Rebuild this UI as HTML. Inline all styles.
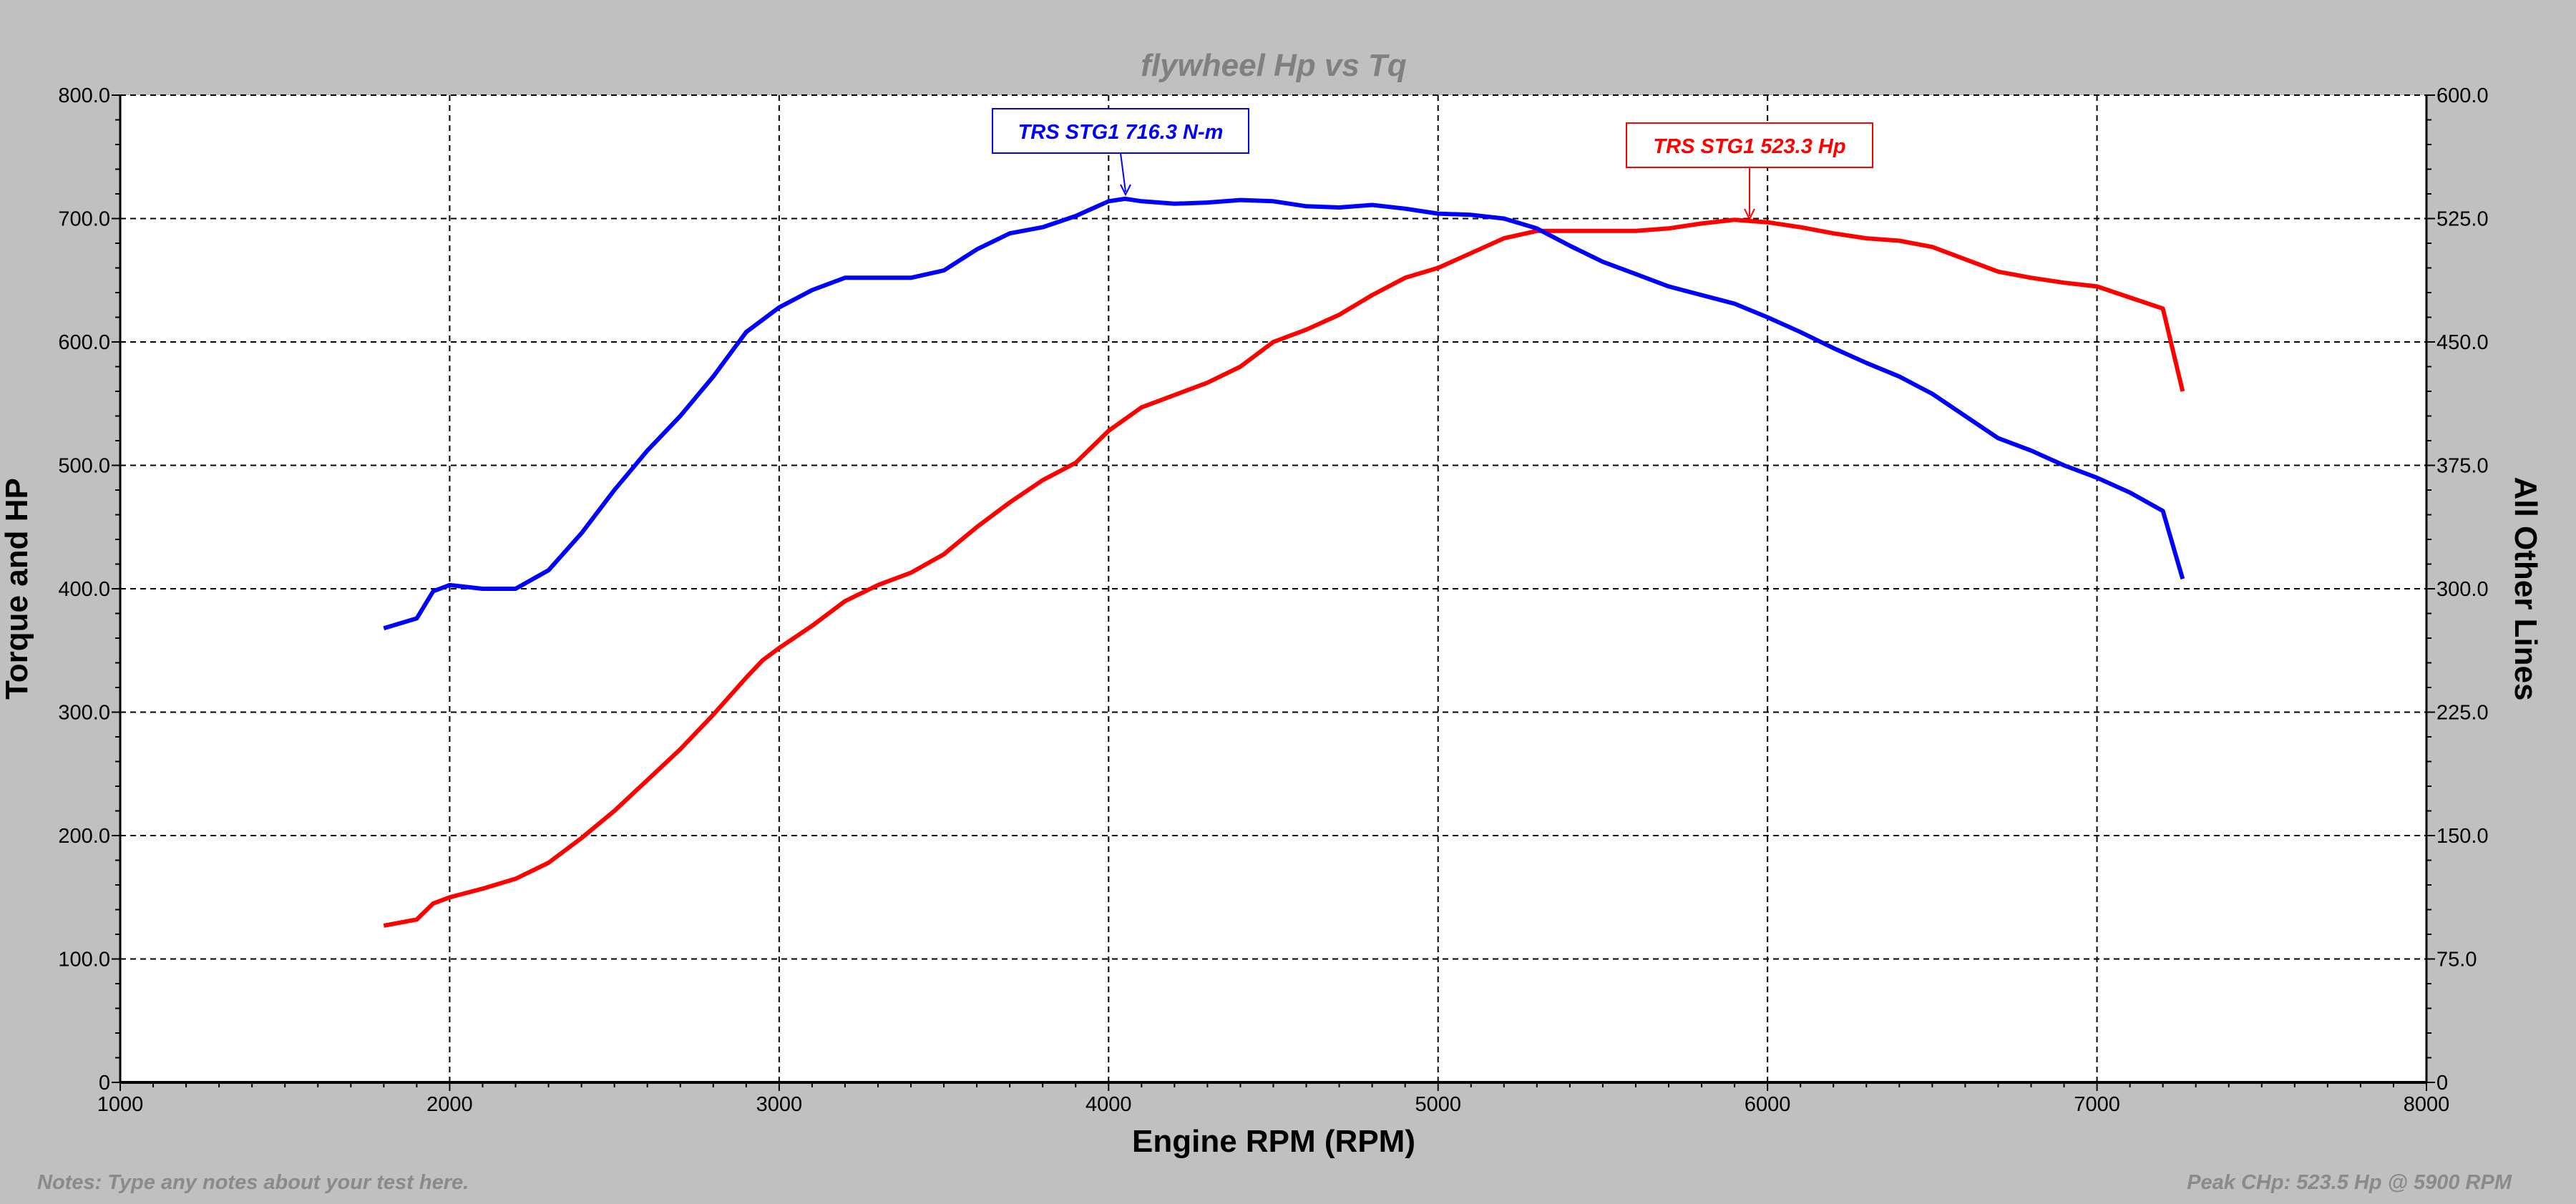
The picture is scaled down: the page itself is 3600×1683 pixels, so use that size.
<!DOCTYPE html>
<html><head><meta charset="utf-8"><style>
html,body{margin:0;padding:0;background:#c0c0c0;}
svg{display:block;font-family:"Liberation Sans",Arial,sans-serif;}
</style></head><body>
<svg id="s" width="3600" height="1683" xmlns="http://www.w3.org/2000/svg">
<rect width="3600" height="1683" fill="#c0c0c0"/>
<rect x="168" y="133" width="3223" height="1380" fill="#fff"/>
<g id="grid"></g>
<g id="ticks"></g>
<text x="1780" y="106" font-size="44" font-weight="bold" font-style="italic" fill="#808080" text-anchor="middle">flywheel Hp vs Tq</text>
<text x="1780" y="1610" font-size="44" font-weight="bold" fill="#000" text-anchor="middle">Engine RPM (RPM)</text>
<text transform="translate(38,823) rotate(-90)" font-size="44" font-weight="bold" fill="#000" text-anchor="middle">Torque and HP</text>
<text transform="translate(3515,823) rotate(90)" font-size="44" font-weight="bold" fill="#000" text-anchor="middle">All Other Lines</text>
<text x="52" y="1662" font-size="29" font-weight="bold" font-style="italic" fill="#8a8a8a">Notes: Type any notes about your test here.</text>
<text x="3510" y="1662" font-size="29" font-weight="bold" font-style="italic" fill="#8a8a8a" text-anchor="end">Peak CHp: 523.5 Hp @ 5900 RPM</text>
<g id="curves"></g>
<g>
<rect x="1387" y="152" width="358" height="62" fill="#fff" stroke="#0000ff" stroke-width="2"/>
<text x="1566" y="194" font-size="29" font-weight="bold" font-style="italic" fill="#0000ff" text-anchor="middle">TRS STG1 716.3 N-m</text>
<line x1="1566" y1="214" x2="1573" y2="268" stroke="#0000ff" stroke-width="2"/>
<path d="M1566,258 L1573,272 L1580,258" fill="none" stroke="#0000ff" stroke-width="2"/>
<rect x="2273" y="172" width="344" height="62" fill="#fff" stroke="#ff0000" stroke-width="2"/>
<text x="2445" y="214" font-size="29" font-weight="bold" font-style="italic" fill="#ff0000" text-anchor="middle">TRS STG1 523.3 Hp</text>
<line x1="2445" y1="234" x2="2445" y2="302" stroke="#ff0000" stroke-width="2"/>
<path d="M2438,292 L2445,306 L2452,292" fill="none" stroke="#ff0000" stroke-width="2"/>
</g>
</svg>
<script>
var L=168,R=3391,T=133,B=1513;
function X(r){return L+(r-1000)*(R-L)/7000;}
function Y(v){return B-v*(B-T)/800;}
var ns="http://www.w3.org/2000/svg",g=document.getElementById('grid'),tk=document.getElementById('ticks'),cv=document.getElementById('curves');
var h='';
for(var r=2000;r<=7000;r+=1000)h+='<line x1="'+X(r)+'" y1="'+T+'" x2="'+X(r)+'" y2="'+B+'" stroke="#000" stroke-width="2" stroke-dasharray="8,6"/>';
for(var v=100;v<=800;v+=100)h+='<line x1="'+L+'" y1="'+Y(v)+'" x2="'+R+'" y2="'+Y(v)+'" stroke="#000" stroke-width="2" stroke-dasharray="8,6"/>';
g.innerHTML=h;
h='<line x1="'+L+'" y1="'+T+'" x2="'+L+'" y2="'+B+'" stroke="#000" stroke-width="3"/>';
h+='<line x1="'+R+'" y1="'+T+'" x2="'+R+'" y2="'+B+'" stroke="#000" stroke-width="3"/>';
h+='<line x1="'+L+'" y1="'+B+'" x2="'+R+'" y2="'+B+'" stroke="#000" stroke-width="4"/>';
for(var v=0;v<=800;v+=20){var y=Y(v),m=(v%100==0);h+='<line x1="'+(L-(m?12:7))+'" y1="'+y+'" x2="'+L+'" y2="'+y+'" stroke="#000" stroke-width="2"/>';h+='<line x1="'+R+'" y1="'+y+'" x2="'+(R+(m?12:7))+'" y2="'+y+'" stroke="#000" stroke-width="2"/>';
if(m){h+='<text x="'+(L-14)+'" y="'+(y+10)+'" font-size="29" text-anchor="end">'+(v==0?'0':v.toFixed(1))+'</text>';
var rv=v*0.75;h+='<text x="'+(R+14)+'" y="'+(y+10)+'" font-size="29">'+(v==0?'0':rv.toFixed(1))+'</text>';}}
for(var r=1000;r<=8000;r+=100){var x=X(r),m=(r%1000==0);h+='<line x1="'+x+'" y1="'+B+'" x2="'+x+'" y2="'+(B+(m?12:7))+'" stroke="#000" stroke-width="2"/>';
if(m)h+='<text x="'+x+'" y="'+(B+40)+'" font-size="29" text-anchor="middle">'+r+'</text>';}
tk.innerHTML=h;
var blue=[[1800,368],[1900,376],[1950,398],[2000,403],[2100,400],[2200,400],[2300,415],[2400,445],[2500,480],[2600,512],[2700,540],[2800,572],[2900,608],[3000,628],[3100,642],[3200,652],[3300,652],[3400,652],[3500,658],[3600,675],[3700,688],[3800,693],[3900,702],[4000,714],[4050,716],[4100,714],[4200,712],[4300,713],[4400,715],[4500,714],[4600,710],[4700,709],[4800,711],[4900,708],[5000,704],[5100,703],[5200,700],[5300,692],[5400,678],[5500,665],[5600,655],[5700,645],[5800,638],[5900,631],[6000,620],[6100,608],[6200,595],[6300,583],[6400,572],[6500,558],[6600,540],[6700,522],[6800,512],[6900,500],[7000,490],[7100,478],[7200,463],[7260,408]];
var red=[[1800,127],[1900,132],[1950,145],[2000,150],[2100,157],[2200,165],[2300,178],[2400,198],[2500,220],[2600,245],[2700,270],[2800,298],[2900,328],[2950,342],[3000,352],[3100,370],[3200,390],[3300,403],[3400,413],[3500,428],[3600,450],[3700,470],[3800,488],[3900,502],[4000,528],[4100,547],[4200,557],[4300,567],[4400,580],[4500,600],[4600,610],[4700,622],[4800,638],[4900,652],[5000,660],[5100,672],[5200,684],[5300,690],[5400,690],[5500,690],[5600,690],[5700,692],[5800,696],[5900,699],[6000,697],[6100,693],[6200,688],[6300,684],[6400,682],[6500,677],[6600,667],[6700,657],[6800,652],[6900,648],[7000,645],[7100,636],[7200,627],[7260,560]];
function p(d){return d.map(function(a,i){return (i?'L':'M')+X(a[0]).toFixed(1)+','+Y(a[1]).toFixed(1);}).join(' ');}
cv.innerHTML='<path d="'+p(red)+'" fill="none" stroke="#ff0000" stroke-width="6" stroke-linejoin="round"/><path d="'+p(blue)+'" fill="none" stroke="#0000ff" stroke-width="6" stroke-linejoin="round"/>';
</script>
</body></html>
